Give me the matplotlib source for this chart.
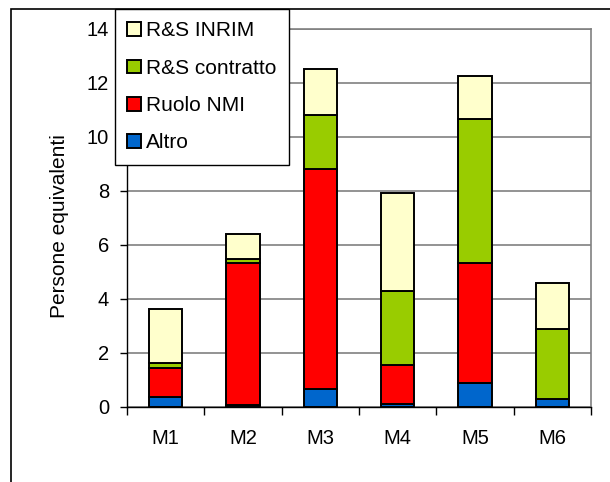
import matplotlib
matplotlib.use("Agg")
import matplotlib.pyplot as plt
from matplotlib.patches import Rectangle
import numpy as np

plt.rcParams['font.family'] = ['Liberation Sans', 'DejaVu Sans']

categories = ["M1", "M2", "M3", "M4", "M5", "M6"]
altro = [0.38, 0.07, 0.67, 0.10, 0.88, 0.30]
ruolo_nmi = [1.08, 5.25, 8.16, 1.46, 4.44, 0.0]
rs_contratto = [0.18, 0.16, 2.00, 2.75, 5.35, 2.59]
rs_inrim = [2.00, 0.92, 1.70, 3.63, 1.58, 1.71]
series_names = ["Altro", "Ruolo NMI", "R&S contratto", "R&S INRIM"]
colors = ["#0066CC", "#FF0000", "#99CC00", "#FFFFCC"]

fig = plt.figure(figsize=(6.1, 4.82), dpi=100)
ax = fig.add_axes([127/610, 1-407/482, (591-127)/610, (407-29)/482])

x = np.arange(len(categories))
bottom = np.zeros(len(categories))
handles = []
for vals, name, col in zip([altro, ruolo_nmi, rs_contratto, rs_inrim], series_names, colors):
    b = ax.bar(x, vals, width=0.43, bottom=bottom, color=col, edgecolor="black",
               linewidth=1.4, label=name, zorder=3)
    handles.append(b)
    bottom += np.array(vals)

ax.set_xlim(-0.5, len(categories) - 0.5)
ax.set_ylim(0, 14)
ax.set_yticks(range(0, 15, 2))
ax.set_xticks(x)
ax.set_xticklabels(categories, fontsize=14.5)
ax.set_xticks(np.arange(-0.5, len(categories), 1), minor=True)
ax.tick_params(axis='x', which='major', length=0, pad=16)
ax.tick_params(axis='x', which='minor', length=6, width=1, direction='out', color='black')
ax.tick_params(axis='y', labelsize=14.5, length=5, width=1, direction='out', pad=8)
ax.grid(axis='y', color='#808080', linewidth=1.2, zorder=0)
ax.set_axisbelow(True)
for s in ['top', 'right']:
    ax.spines[s].set_color('#808080')
    ax.spines[s].set_linewidth(1.2)
for s in ['left', 'bottom']:
    ax.spines[s].set_color('black')
    ax.spines[s].set_linewidth(1.0)
ax.set_ylabel("Persone equivalenti", fontsize=15)
ax.yaxis.set_label_coords(-0.126, 0.479)

# Outer chart frame
fig.patches.append(Rectangle((11/610, -0.1), 1.2, 1.1 - 9/482, transform=fig.transFigure,
                             fill=False, edgecolor='black', linewidth=1.2, zorder=0))

leg = fig.legend(handles[::-1], series_names[::-1],
                 loc='upper left', bbox_to_anchor=(115/610, 1-9/482),
                 prop={'size': 15}, frameon=True, fancybox=False, framealpha=1,
                 edgecolor='black', handlelength=0.65, handleheight=0.65,
                 handletextpad=0.25, labelspacing=0.88, borderpad=0.6,
                 borderaxespad=0)
leg.get_frame().set_linewidth(1.0)

fig.savefig("out.png", dpi=100)
